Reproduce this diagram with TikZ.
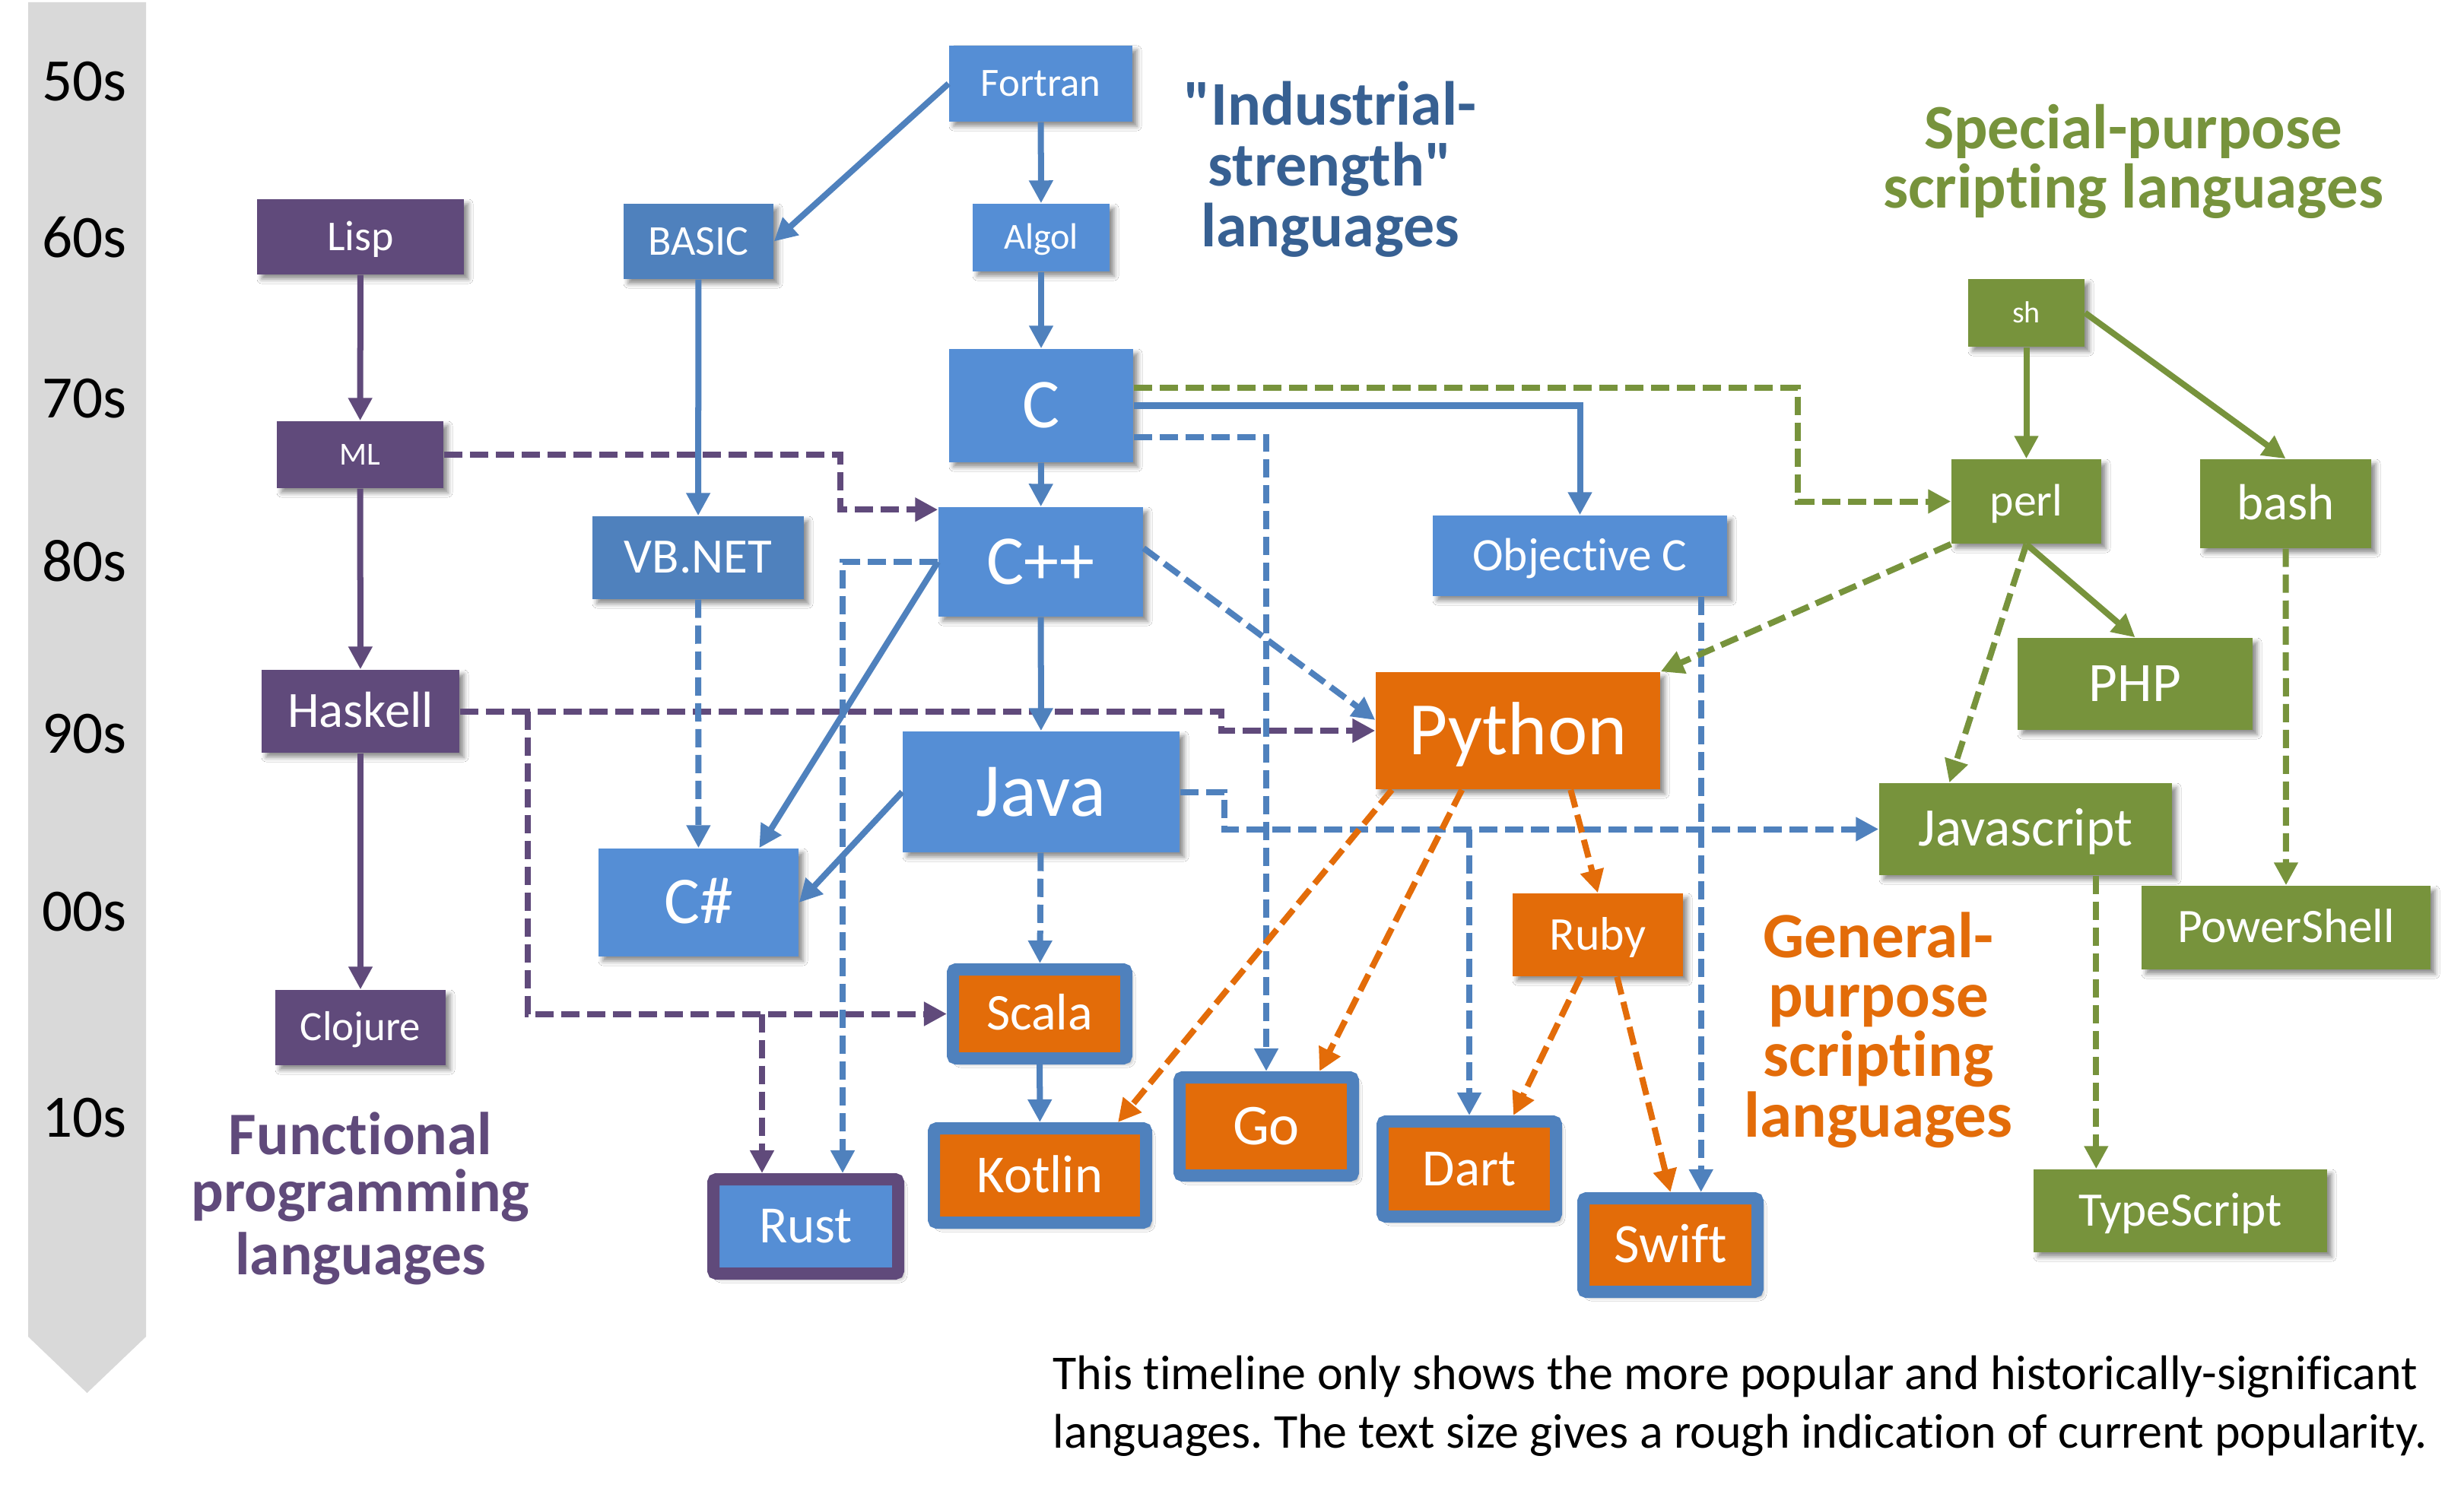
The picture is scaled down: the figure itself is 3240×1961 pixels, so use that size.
\documentclass[tikz,border=0pt]{standalone}
\usepackage{fontspec}
\setmainfont{Carlito}[Ligatures=CommonOff]
\font\qb="Carlito/B" at 23.3pt
\frenchspacing
\usetikzlibrary{arrows.meta,calc,shadows.blur}
\definecolor{fpurple}{HTML}{604A7B}
\definecolor{lblue}{HTML}{558ED5}
\definecolor{dblue}{HTML}{4F81BD}
\definecolor{orng}{HTML}{E36C09}
\definecolor{grn}{HTML}{77933C}
\definecolor{indblue}{HTML}{376092}
\definecolor{barg}{HTML}{D9D9D9}
\newcommand{\langbox}[8]{%
  \pgfmathsetmacro{\lbth}{0.63*#7}%
  \pgfmathsetmacro{\lbw}{(#4-#2)*0.01}%
  \pgfmathsetmacro{\lbh}{(#5-#3)*0.01}%
  \node[#6, minimum width=\lbw cm, minimum height=\lbh cm,
        font=\fontsize{#7pt}{#7pt}\selectfont, text height=\lbth pt, text depth=0pt]
        (#1) at ({(#2+#4)/2},{(#3+#5)/2}) {#8};}
\tikzset{
  bx/.style={inner sep=0pt, text=white,
     blur shadow={shadow xshift=0.06cm, shadow yshift=-0.06cm, shadow blur radius=0.06cm, shadow opacity=45}},
  pbox/.style={bx, fill=fpurple},
  lbox/.style={bx, fill=lblue},
  dbox/.style={bx, fill=dblue},
  obox/.style={bx, fill=orng},
  gbox/.style={bx, fill=grn},
  dob/.style={bx, fill=orng, draw=dblue, line width=0.16cm, rounded corners=0.04cm},
  dlb/.style={bx, fill=lblue, draw=fpurple, line width=0.16cm, rounded corners=0.04cm},
  con/.style={line width=0.08cm, -{Triangle[length=0.3cm,width=0.3cm]}},
  dsh/.style={con, dash pattern=on 0.24cm off 0.1cm},
  decade/.style={anchor=base, font=\fontsize{22.5pt}{22.5pt}\selectfont, text=black, inner sep=0pt},
  head/.style={anchor=base, font=\bfseries\fontsize{#1pt}{#1pt}\selectfont, inner sep=0pt},
  note/.style={anchor=base west, font=\fontsize{18.2pt}{18.2pt}\selectfont, inner sep=0pt}
}
\begin{document}
\begin{tikzpicture}[x=0.01cm,y=-0.01cm]
\useasboundingbox (0,0) rectangle (3240,1961);
\fill[white] (0,0) rectangle (3240,1961);
% timeline bar
\fill[barg] (37,3) -- (192,3) -- (192,1758) -- (114.5,1832) -- (37,1758) -- cycle;
\node[decade] (d50) at (111,133) {50s};
\node[decade] (d60) at (111,339) {60s};
\node[decade] (d70) at (111,549) {70s};
\node[decade] (d80) at (111,764) {80s};
\node[decade] (d90) at (111,990) {90s};
\node[decade] (d00) at (111,1224) {00s};
\node[decade] (d10) at (111,1495) {10s};

% headings
\node[head=23.3, text=indblue] (ind1) at (1749,165) {{\qb"}Industrial-};
\node[head=23.3, text=indblue] (ind2) at (1749,245) {strength{\qb"}};
\node[head=23.3, text=indblue] (ind3) at (1749,325) {languages};
\node[head=23.6, text=grn] (sp1) at (2805,196) {Special-purpose};
\node[head=23.6, text=grn] (sp2) at (2805,274) {scripting languages};
\node[head=24.2, text=orng] (gp1) at (2470,1259) {General-};
\node[head=24.2, text=orng] (gp2) at (2470,1337) {purpose};
\node[head=24.2, text=orng] (gp3) at (2470,1415) {scripting};
\node[head=24.2, text=orng] (gp4) at (2470,1495) {languages};
\node[head=22.6, text=fpurple] (fp1) at (474,1518) {Functional};
\node[head=22.6, text=fpurple] (fp2) at (474,1593) {programming};
\node[head=22.6, text=fpurple] (fp3) at (474,1676) {languages};
\node[note] (n1) at (1384,1827) {This timeline only shows the more popular and historically-significant};
\node[note] (n2) at (1384,1904) {languages. The text size gives a rough indication of current popularity.};

% functional
\langbox{lisp}{338}{262}{610}{361}{pbox}{15.9}{Lisp}
\langbox{ml}{364}{554}{583}{642}{pbox}{12}{ML}
\langbox{haskell}{344}{881}{604}{990}{pbox}{19}{Haskell}
\langbox{clojure}{362}{1302}{586}{1401}{pbox}{15.6}{Clojure}
% industrial
\langbox{fortran}{1248}{60}{1489}{160}{lbox}{15}{Fortran}
\langbox{basic}{820}{268}{1017}{367}{dbox}{15.9}{BASIC}
\langbox{algol}{1279}{268}{1459}{357}{lbox}{13.7}{Algol}
\langbox{c}{1248}{459}{1490}{608}{lbox}{26.2}{C}
\langbox{vbnet}{779}{679}{1057}{788}{dbox}{18.5}{VB.NET}
\langbox{cpp}{1234}{667}{1503}{811}{lbox}{26.2}{C++}
\langbox{objc}{1884}{678}{2271}{784}{lbox}{17.4}{Objective C}
\langbox{java}{1187}{962}{1551}{1121}{lbox}{28.5}{Java}
\langbox{csharp}{787}{1116}{1050}{1258}{lbox}{25}{C\#}
% general purpose
\langbox{python}{1809}{884}{2183}{1038}{obox}{28.2}{Python}
\langbox{ruby}{1989}{1175}{2213}{1284}{obox}{17.6}{Ruby}
\langbox{scala}{1253}{1275}{1481}{1392}{dob}{19.3}{Scala}
\langbox{kotlin}{1228}{1484}{1507}{1608}{dob}{20}{Kotlin}
\langbox{go}{1551}{1417}{1779}{1546}{dob}{21.6}{Go}
\langbox{dart}{1818}{1475}{2046}{1600}{dob}{19.6}{Dart}
\langbox{swift}{2082}{1576}{2311}{1699}{dob}{20.8}{Swift}
\langbox{rust}{938}{1551}{1181}{1675}{dlb}{19.6}{Rust}
% special purpose
\langbox{sh}{2588}{367}{2741}{456}{gbox}{11.4}{sh}
\langbox{perl}{2566}{604}{2763}{715}{gbox}{17}{perl}
\langbox{bash}{2893}{604}{3118}{721}{gbox}{19}{bash}
\langbox{php}{2653}{839}{2962}{960}{gbox}{20.8}{PHP}
\langbox{js}{2471}{1030}{2856}{1151}{gbox}{20.3}{Javascript}
\langbox{pshell}{2816}{1165}{3196}{1275}{gbox}{18}{PowerShell}
\langbox{ts}{2674}{1538}{3060}{1647}{gbox}{18}{TypeScript}

% helper coordinates
\coordinate (rustin1) at ($(rust.north west)+(72,0)$);
\coordinate (rustin2) at ($(rust.north west)+(178,0)$);
\coordinate (objcout) at ([xshift=-0.35cm]objc.south east);
\coordinate (jsout) at ($(js.south west)+(286,0)$);

% purple connectors
\draw[con, fpurple] (lisp) -- (ml);
\draw[con, fpurple] (ml) -- (haskell);
\draw[con, fpurple] (haskell) -- (clojure);
\draw[dsh, fpurple] (ml.east) -- ++(521,0) |- ([yshift=-0.04cm]cpp.north west);
\draw[dsh, fpurple] (haskell.east) -- ++(1001,0) |- (python.west);
\draw[dsh, fpurple] ([xshift=0.89cm]haskell.east) |- (scala.west);
\draw[dsh, fpurple] (rustin1 |- scala.west) -- (rustin1);

% blue connectors
\draw[con, dblue] (fortran.west) -- (basic.east);
\draw[con, dblue] (fortran) -- (algol);
\draw[con, dblue] (algol) -- (c);
\draw[con, dblue] (basic) -- (vbnet);
\draw[dsh, dblue] (vbnet) -- (csharp);
\draw[con, dblue] (c) -- (cpp);
\draw[con, dblue] (c.east) -| (objc.north);
\draw[dsh, dblue] ([yshift=-0.41cm]c.east) -| (go.north);
\draw[con, dblue] (cpp) -- (java);
\draw[con, dblue] (cpp.west) -- ($(csharp.north west)+(212,0)$);
\draw[dsh, dblue] (cpp.west) -| (rustin2);
\draw[dsh, dblue] ([yshift=0.18cm]cpp.east) -- ([yshift=0.14cm]python.west);
\draw[con, dblue] (java.west) -- (csharp.east);
\draw[dsh, dblue] (java) -- (scala);
\draw[dsh, dblue] (java.east) -- ++(58,0) |- (js.west);
\draw[dsh, dblue] (dart.north |- js.west) -- (dart.north);
\draw[con, dblue] (scala) -- (kotlin);
\draw[dsh, dblue] (objcout) -- (objcout |- swift.north);

% orange connectors
\draw[dsh, orng] ($(python.south west)+(22,0)$) -- ($(kotlin.north east)+(-45,0)$);
\draw[dsh, orng] ($(python.south west)+(114,0)$) -- ($(go.north east)+(-52,0)$);
\draw[dsh, orng] ($(python.south west)+(257,0)$) -- (ruby.north);
\draw[dsh, orng] ($(ruby.south west)+(90,0)$) -- ($(dart.north east)+(-64,0)$);
\draw[dsh, orng] ($(ruby.south west)+(138,0)$) -- (swift.north);

% green connectors
\draw[dsh, grn] ([yshift=0.235cm]c.east) -- ++(873,0) |- (perl.west);
\draw[con, grn] (sh) -- (perl);
\draw[con, grn] (sh.east) -- (bash.north);
\draw[dsh, grn] (perl.south west) -- (python.north east);
\draw[dsh, grn] (perl.south) -- ($(js.north west)+(93,0)$);
\draw[con, grn] (perl.south) -- (php.north);
\draw[dsh, grn] (bash) -- (pshell);
\draw[dsh, grn] (jsout) -- (jsout |- ts.north);
\end{tikzpicture}
\end{document}
